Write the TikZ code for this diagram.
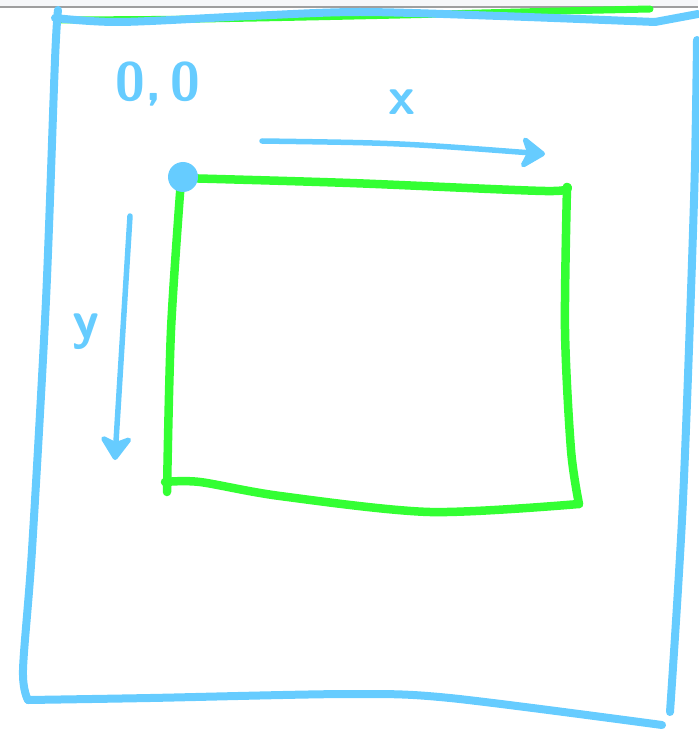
\documentclass[tikz,border=0pt]{standalone}
\usepackage{tikz}
\usetikzlibrary{arrows.meta}
\definecolor{skyblue}{HTML}{66CCFF}
\definecolor{limegreen}{HTML}{33FF33}
\definecolor{toolbar}{HTML}{F6F7F9}
\begin{document}
\begin{tikzpicture}[x=1pt,y=-1pt,
    sky/.style={draw=skyblue,line width=8pt,line cap=round,line join=round},
    lime/.style={draw=limegreen,line width=8.5pt,line cap=round,line join=round},
    axis/.style={draw=skyblue,line width=5.5pt,line cap=round,
      -{Stealth[length=28pt,width=38pt,inset=8pt,round]}},
    lbl/.style={text=skyblue,font=\sffamily\bfseries\fontsize{54}{54}\selectfont}]
  \useasboundingbox (0,0) rectangle (698,730);
  % window edge
  \fill[toolbar] (0,0) rectangle (698,7);
  \draw[gray!75,line width=1.5pt] (0,7) -- (698,7);
  % page (blue) with the green stroke under its top
  \draw[lime,line width=7pt] plot[smooth] coordinates {(60,20) (200,19) (400,15) (560,11) (650,9)};
  \draw[sky] plot[smooth] coordinates {(55,18) (120,22) (250,16) (360,12) (500,16) (655,22)};
  \draw[sky] (655,22) -- (698,14);
  \draw[sky] plot[smooth] coordinates {(58,10) (55,60) (46,300) (32,550) (23,670) (28,700)};
  \draw[sky] plot[smooth] coordinates {(28,700) (150,698) (350,694) (450,698) (662,725)};
  \draw[sky] plot[smooth] coordinates {(697,40) (694,200) (683,500) (670,712)};
  % box (green)
  \draw[lime] plot[smooth] coordinates {(180,178) (350,183) (545,191) (567,187)};
  \draw[lime] plot[smooth] coordinates {(567,187) (565,330) (571,450) (579,504)};
  \draw[lime] plot[smooth] coordinates {(579,504) (430,512) (280,496) (200,482) (165,482)};
  \draw[lime] plot[smooth] coordinates {(181,180) (171,330) (167,492)};
  % origin
  \fill[skyblue] (183,177) circle (15);
  \node[lbl] (orig) at (158,84) {0,\,0};
  % axes
  \coordinate (xs) at (262,141);
  \coordinate (xe) at (545,154);
  \coordinate (ys) at (130,216);
  \coordinate (ye) at (115,460);
  \draw[axis] (xs) .. controls (400,143) .. (xe);
  \draw[axis] (ys) .. controls (122,330) .. (ye);
  \node[lbl] (xlbl) at (402,102) {x};
  \node[lbl] (ylbl) at (86,332) {y};
\end{tikzpicture}
\end{document}
